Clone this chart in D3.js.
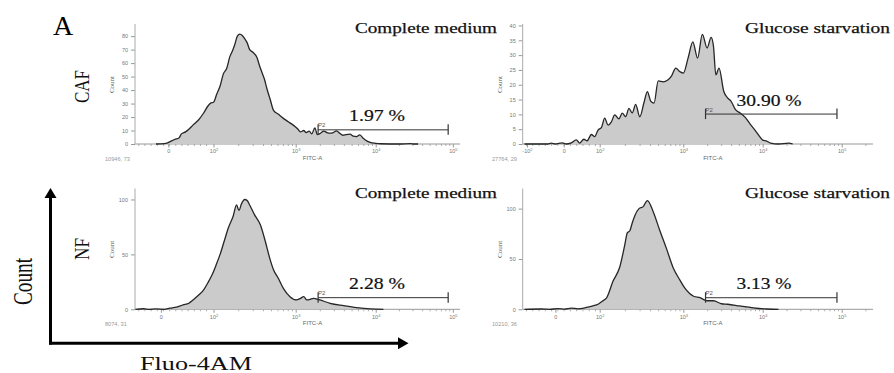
<!DOCTYPE html>
<html>
<head>
<meta charset="utf-8">
<script src="https://cdn.jsdelivr.net/npm/d3@7"></script>
<style>
body { margin: 0; background: #fff; }
svg { display: block; }
</style>
</head>
<body>
<svg width="894" height="373"></svg>
<script>

// histogram points: [FITC-A position in decades, count]
var cafComplete = [[1.30,0],[1.40,0.3],[1.44,0.8],[1.47,1.7],[1.53,3.5],[1.58,4.5],[1.61,7.5],[1.66,9],[1.70,11],[1.75,14],
    [1.82,18],[1.88,23],[1.93,28],[1.97,30.5],[2.00,31],[2.04,37],[2.08,43],[2.12,52],[2.16,56],[2.20,65],[2.23,69],
    [2.26,74],[2.29,80],[2.32,81.5],[2.35,80.5],[2.38,78],[2.41,75],[2.44,70],[2.48,68],[2.53,64],[2.56,58],[2.59,53],
    [2.62,48],[2.65,41],[2.69,33],[2.73,25],[2.79,22],[2.85,19],[2.91,16.5],[2.97,14],[3.02,11.5],[3.06,9],[3.10,10],
    [3.13,8.5],[3.17,9.5],[3.20,7.5],[3.24,12],[3.27,7],[3.31,8],[3.35,9.5],[3.39,8.5],[3.43,8],[3.47,8.5],[3.51,9.7],
    [3.55,8],[3.59,6.5],[3.63,7],[3.68,7.3],[3.72,5.8],[3.76,5.5],[3.80,6.7],[3.84,4.5],[3.87,3],[3.93,1.2],[4.00,0.5],
    [4.06,0.2],[4.30,0],[4.45,0.3],[4.50,0],[4.55,0]];

var cafGlucose = [[1.10,0],[1.38,0],[1.42,0.3],[1.47,0],[1.55,0.4],[1.60,0],[1.66,0.4],[1.72,1.4],[1.76,0.3],[1.81,1.6],
    [1.85,1.1],[1.90,3.2],[1.94,2.5],[1.98,4.7],[2.02,5.5],[2.06,8.7],[2.10,6.4],[2.14,7.5],[2.18,9.8],[2.23,8.5],
    [2.27,10.4],[2.31,9.2],[2.35,12],[2.39,10.5],[2.43,13.4],[2.48,9.2],[2.53,14],[2.57,17.7],[2.61,14.5],[2.65,13.8],
    [2.70,21.3],[2.76,21],[2.81,21.5],[2.86,23],[2.91,25.6],[2.96,24.4],[3.00,23.9],[3.06,29],[3.12,34.5],[3.18,29],
    [3.24,37],[3.30,32.4],[3.35,36],[3.38,33],[3.41,23.3],[3.45,25.6],[3.51,17.7],[3.56,15.5],[3.60,14.5],[3.66,11.5],
    [3.72,10.4],[3.78,9],[3.84,6.8],[3.90,4.8],[3.96,2.6],[4.00,1.3],[4.05,1],[4.10,0.3],[4.20,0],[4.33,0.3],[4.38,0]];

var nfComplete = [[1.05,0],[1.15,0.5],[1.22,0],[1.30,0.3],[1.40,0],[1.47,1],[1.55,2],[1.63,4],[1.70,5.5],[1.75,8.5],
    [1.82,13],[1.88,17.7],[1.93,24],[1.98,31],[2.03,40],[2.08,50],[2.13,62],[2.18,74],[2.24,85],[2.28,95],[2.31,90],
    [2.34,96],[2.38,100],[2.41,99],[2.44,95],[2.50,86],[2.57,77],[2.63,62],[2.69,45],[2.73,36],[2.79,28],[2.85,19],
    [2.93,11.5],[3.01,8.5],[3.06,10],[3.10,11.5],[3.14,8.5],[3.18,9],[3.22,10],[3.30,8.5],[3.43,5.5],[3.60,3.3],
    [3.76,1.5],[3.93,0.3],[4.10,0]];

var nfGlucose = [[1.10,0],[1.30,0.3],[1.40,0],[1.50,0.6],[1.58,0.2],[1.66,1.2],[1.74,0.5],[1.84,1.8],[1.92,3.5],[1.98,5],
    [2.03,8],[2.08,11],[2.16,28],[2.24,42],[2.30,64],[2.33,76],[2.36,78],[2.39,86],[2.42,93],[2.47,100],[2.52,102],
    [2.57,108],[2.64,97],[2.72,78],[2.80,60],[2.88,41],[2.96,29],[3.02,21],[3.13,13],[3.21,11.5],[3.30,8.5],[3.38,8.5],
    [3.48,5.5],[3.56,5],[3.71,3.3],[3.88,1.5],[4.05,0.3],[4.20,0]];

var histograms = [cafComplete, cafGlucose, nfComplete, nfGlucose];
var conditions = ["Complete medium", "Glucose starvation"];
var cellTypes = ["CAF", "NF"];
var gatePercent = ["1.97 %", "30.90 %", "2.28 %", "3.13 %"];
var eventLabels = ["10946, 73", "27764, 29", "8074, 31", "10210, 36"];
var yMax = [89, 40.5, 110, 120];
var yTicks = [[0,10,20,30,40,50,60,70,80], [0,5,10,15,20,25,30,35,40], [0,50,100], [0,50,100]];
var xTickVals = [[1.45,2,3,4,5], [1.13,1.57,2,3,4,5], [1.36,2,3,4,5], [1.47,2,3,4,5]];
var xTickLabels = [["0","10^2","10^3","10^4","10^5"], ["-10^2","0","10^2","10^3","10^4","10^5"],
    ["0","10^2","10^3","10^4","10^5"], ["0","10^2","10^3","10^4","10^5"]];
var gateRange = [3.28, 4.94];
var gateCount = [10.5, 10.1, 10.6, 11.5];

var svg = d3.select('svg');
var serif = '"Liberation Serif", "Times New Roman", serif';
var sans = '"Liberation Sans", Arial, sans-serif';

var cols = [
    {axisX: 135, axisEnd: 460, xr: [213.5, 295.7, 375.7, 452.8], evX: 105, titleX: 355, titleW: 142},
    {axisX: 522.7, axisEnd: 873, xr: [599.7, 683.3, 762.7, 841.7], evX: 492, titleX: 745, titleW: 145}
];
var rows = [
    {y0: 144, top: 24, titleY: 32.5},
    {y0: 309.3, top: 188.5, titleY: 197.5}
];
var pctWidth = [56, 65, 56, 55];

histograms.forEach(function(data, i) {
    var c = cols[i % 2], r = rows[Math.floor(i / 2)];
    var x = d3.scaleLinear().domain([2, 3, 4, 5]).range(c.xr);
    var y = d3.scaleLinear().domain([0, yMax[i]]).range([r.y0, r.top]);
    var g = svg.append('g');

    // minor x ticks: linear part then log part
    var minor = d3.range(x.invert(c.axisX) + 0.04, 1.97, 0.075);
    [2, 3, 4, 5].forEach(function(n) {
        d3.range(2, 10).forEach(function(k) { minor.push(n + Math.log10(k)); });
    });
    minor = minor.filter(function(v) { return x(v) < c.axisEnd - 1; });

    g.append('g')
        .attr('transform', 'translate(0,' + r.y0 + ')')
        .call(d3.axisBottom(x).tickValues(minor).tickSize(2).tickSizeOuter(0).tickFormat(''))
        .call(function(a) { a.select('.domain').remove(); a.selectAll('line').attr('stroke', '#b0b0b0'); });

    var ax = g.append('g')
        .attr('transform', 'translate(0,' + r.y0 + ')')
        .call(d3.axisBottom(x).tickValues(xTickVals[i]).tickSize(3.5).tickPadding(2).tickSizeOuter(0));
    ax.select('.domain').remove();
    ax.selectAll('line').attr('stroke', '#999');
    ax.selectAll('text')
        .attr('font-family', sans).attr('font-size', 5.5).attr('fill', '#777')
        .each(function(d, k) {
            var lab = xTickLabels[i][k].split('^');
            var t = d3.select(this).text(lab[0]);
            if (lab[1]) t.append('tspan').attr('dy', -2).attr('font-size', 4).text(lab[1]);
        });

    var ay = g.append('g')
        .attr('transform', 'translate(' + c.axisX + ',0)')
        .call(d3.axisLeft(y).tickValues(yTicks[i]).tickSize(4).tickPadding(3).tickSizeOuter(0));
    ay.select('.domain').remove();
    ay.selectAll('line').attr('stroke', '#999');
    ay.selectAll('text').attr('font-family', sans).attr('font-size', 5.5).attr('fill', '#777');

    g.append('line')
        .attr('x1', c.axisX).attr('x2', c.axisEnd).attr('y1', r.y0).attr('y2', r.y0)
        .attr('stroke', '#999').attr('stroke-width', 1);
    g.append('line')
        .attr('x1', c.axisX).attr('x2', c.axisX).attr('y1', r.top).attr('y2', r.y0)
        .attr('stroke', '#aaa').attr('stroke-width', 1);

    // histogram
    var area = d3.area()
        .x(function(d) { return x(d[0]); })
        .y0(y(0))
        .y1(function(d) { return y(d[1]); })
        .curve(d3.curveMonotoneX);
    var line = d3.line()
        .x(function(d) { return x(d[0]); })
        .y(function(d) { return y(d[1]); })
        .curve(d3.curveMonotoneX);
    g.append('path').datum(data).attr('d', area).attr('fill', '#cbcbcb');
    g.append('path').datum(data).attr('d', line)
        .attr('fill', 'none').attr('stroke', '#262626').attr('stroke-width', 1.3);

    // P2 gate
    var gx1 = x(gateRange[0]), gx2 = x(gateRange[1]), gy = y(gateCount[i]);
    g.append('line').attr('x1', gx1).attr('x2', gx2).attr('y1', gy).attr('y2', gy)
        .attr('stroke', '#333').attr('stroke-width', 1);
    [gx1, gx2].forEach(function(bx) {
        g.append('line').attr('x1', bx).attr('x2', bx).attr('y1', gy - 5.5).attr('y2', gy + 5)
            .attr('stroke', '#333').attr('stroke-width', 1.2);
    });
    g.append('text').text('P2')
        .attr('x', gx1).attr('y', gy - 2.5)
        .attr('font-family', sans).attr('font-size', 6).attr('fill', '#555');
    g.append('text').text(gatePercent[i])
        .attr('x', gx1 + 31).attr('y', gy - 8.5)
        .attr('textLength', pctWidth[i]).attr('lengthAdjust', 'spacingAndGlyphs')
        .attr('font-family', serif).attr('font-size', 16.5).attr('fill', '#111')
        .attr('stroke', '#111').attr('stroke-width', 0.2);

    // small labels
    g.append('text').text('FITC-A')
        .attr('x', (c.axisX + c.axisEnd) / 2 + 15).attr('y', r.y0 + 15.5)
        .attr('text-anchor', 'middle')
        .attr('font-family', sans).attr('font-size', 6).attr('fill', '#666');
    g.append('text').text(eventLabels[i])
        .attr('x', c.evX).attr('y', r.y0 + 17)
        .attr('font-family', sans).attr('font-size', 5.6).attr('fill', '#999');
    g.append('text').text('Count')
        .attr('transform', 'translate(' + (c.axisX - 21) + ',' + ((r.top + r.y0) / 2 + 0.5) + ') rotate(-90)')
        .attr('text-anchor', 'middle')
        .attr('font-family', serif).attr('font-size', 7).attr('fill', '#555');

    // condition title
    g.append('text').text(conditions[i % 2])
        .attr('x', c.titleX).attr('y', r.titleY)
        .attr('textLength', c.titleW).attr('lengthAdjust', 'spacingAndGlyphs')
        .attr('font-family', serif).attr('font-size', 15.5).attr('fill', '#111')
        .attr('stroke', '#111').attr('stroke-width', 0.25);
});

// row labels
cellTypes.forEach(function(t, k) {
    svg.append('text').text(t)
        .attr('transform', 'translate(88.5,' + (k === 0 ? 86.5 : 249) + ') rotate(-90)')
        .attr('text-anchor', 'middle')
        .attr('textLength', k === 0 ? 33 : 22).attr('lengthAdjust', 'spacingAndGlyphs')
        .attr('font-family', serif).attr('font-size', 20).attr('fill', '#111');
});

svg.append('text').text('A')
    .attr('x', 53).attr('y', 34.5)
    .attr('font-family', serif).attr('font-size', 28).attr('fill', '#000');

// big axes with arrows
svg.append('line').attr('x1', 50.5).attr('x2', 50.5).attr('y1', 344.5).attr('y2', 197)
    .attr('stroke', '#000').attr('stroke-width', 3);
svg.append('line').attr('x1', 49).attr('x2', 399).attr('y1', 343.3).attr('y2', 343.3)
    .attr('stroke', '#000').attr('stroke-width', 3);
svg.append('path').attr('d', 'M44.5,198 L50.5,188 L56.5,198 Z').attr('fill', '#000');
svg.append('path').attr('d', 'M398,337.3 L408.5,343.3 L398,349.3 Z').attr('fill', '#000');

svg.append('text').text('Count')
    .attr('transform', 'translate(32,281.5) rotate(-90)')
    .attr('text-anchor', 'middle')
    .attr('textLength', 47).attr('lengthAdjust', 'spacingAndGlyphs')
    .attr('font-family', serif).attr('font-size', 27).attr('fill', '#111');

svg.append('text').text('Fluo-4AM')
    .attr('x', 140).attr('y', 370)
    .attr('textLength', 112).attr('lengthAdjust', 'spacingAndGlyphs')
    .attr('font-family', serif).attr('font-size', 19.5).attr('fill', '#111');

</script>
</body>
</html>
